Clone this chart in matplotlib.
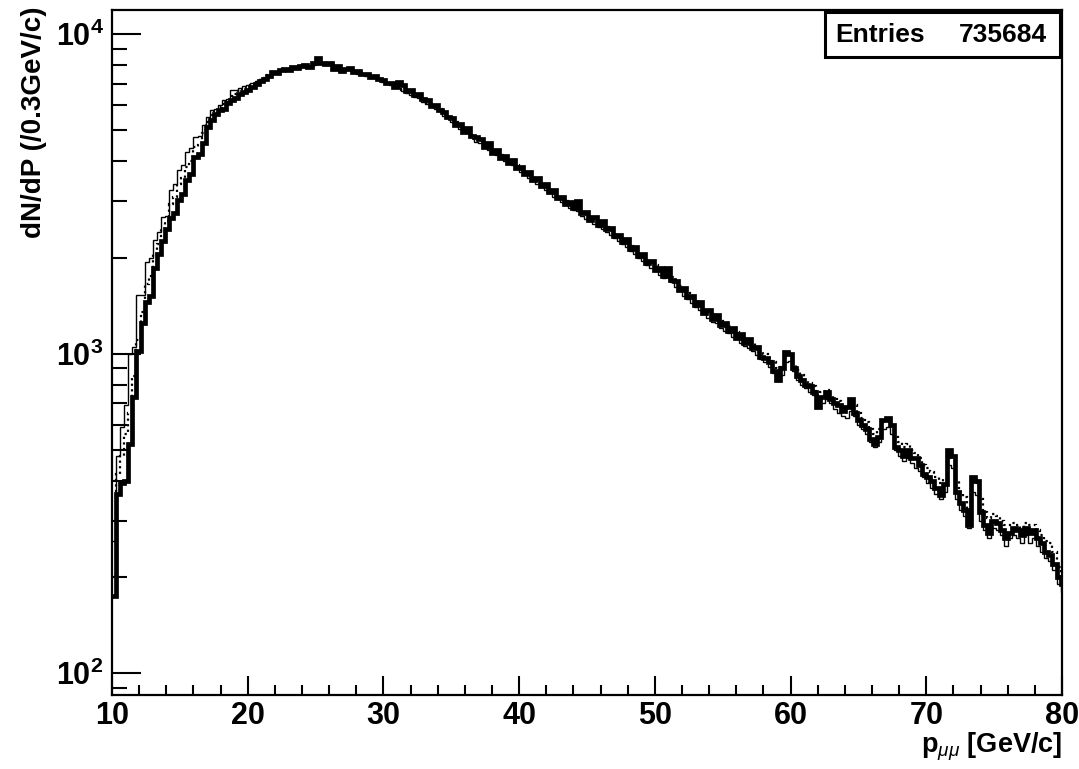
import numpy as np
import matplotlib
matplotlib.use("Agg")
import matplotlib.pyplot as plt
from matplotlib.patches import Rectangle
from matplotlib.ticker import FixedLocator, MultipleLocator, NullFormatter

# --- Data: 0.3 GeV/c bins from 10 GeV/c ---
BIN_START = 10.0
BIN_WIDTH = 0.3
ENTRIES = 735684

thick = [
    175, 365, 395, 400, 520, 730, 1020, 1250, 1450, 1520,
    1860, 2050, 2260, 2450, 2650, 2750, 3030, 3170, 3490, 3650,
    4140, 4230, 4550, 5120, 5390, 5630, 5770, 5850, 6100, 6200,
    6300, 6500, 6600, 6700, 6850, 7000, 7150, 7250, 7400, 7600,
    7550, 7700, 7800, 7750, 7900, 7850, 7950, 8000, 7900, 8100,
    8450, 8150, 8050, 8100, 7800, 7950, 7650, 7800, 7850, 7600,
    7650, 7500, 7500, 7350, 7400, 7250, 7200, 7050, 7050, 6850,
    7100, 6950, 6650, 6700, 6450, 6500, 6250, 6200, 5950, 6000,
    5800, 5700, 5500, 5450, 5200, 5250, 4950, 5100, 4800, 4750,
    4700, 4450, 4550, 4250, 4350, 4100, 4150, 3950, 4050, 3800,
    3850, 3650, 3700, 3500, 3550, 3350, 3400, 3200, 3250, 3080,
    3100, 2950, 2980, 2850, 3000, 2750, 2780, 2620, 2680, 2530,
    2600, 2450, 2480, 2330, 2350, 2230, 2280, 2120, 2160, 2020,
    2050, 1920, 1950, 1830, 1850, 1750, 1860, 1700, 1690, 1580,
    1600, 1500, 1520, 1420, 1450, 1340, 1370, 1280, 1320, 1230,
    1250, 1180, 1200, 1120, 1150, 1080, 1110, 1040, 1050, 980,
    970, 940, 880, 830, 900, 1010, 1000, 900, 850, 830,
    800, 790, 760, 680, 730, 760, 720, 700, 690, 660,
    680, 720, 650, 620, 600, 580, 540, 520, 550, 620,
    630, 600, 510, 500, 480, 500, 470, 470, 450, 420,
    410, 400, 380, 360, 390, 500, 480, 370, 340, 325,
    290, 410, 400, 320, 290, 275, 300, 295, 280, 265,
    275, 285, 280, 270, 285, 275, 280, 265, 255, 240,
    235, 220, 200, 190,
]

thin = [
    260, 480, 590, 690, 1000, 1050, 1525, 1525, 1930, 2000,
    2270, 2400, 2670, 2700, 3250, 3400, 3750, 3900, 4270, 4400,
    4750, 4800, 5200, 5500, 5800, 5850, 6000, 6200, 6250, 6670,
    6700, 6800, 6900, 6950, 7050, 7150, 7250, 7300, 7450, 7550,
    7600, 7650, 7750, 7800, 7850, 7800, 7900, 7950, 7900, 8000,
    8150, 8050, 8000, 8000, 7750, 7850, 7650, 7700, 7700, 7600,
    7500, 7500, 7400, 7300, 7300, 7200, 7100, 7000, 6950, 6850,
    6800, 6650, 6550, 6450, 6350, 6300, 6150, 6050, 5950, 5850,
    5750, 5550, 5450, 5300, 5200, 5050, 4950, 4900, 4750, 4600,
    4550, 4450, 4350, 4250, 4200, 4100, 4000, 3950, 3900, 3800,
    3700, 3650, 3550, 3480, 3400, 3330, 3250, 3180, 3100, 3050,
    2980, 2920, 2850, 2820, 2800, 2700, 2640, 2600, 2550, 2500,
    2460, 2400, 2350, 2300, 2250, 2200, 2150, 2100, 2050, 2000,
    1950, 1900, 1850, 1820, 1760, 1730, 1740, 1680, 1620, 1570,
    1520, 1480, 1440, 1400, 1370, 1330, 1290, 1260, 1250, 1200,
    1180, 1160, 1130, 1110, 1080, 1060, 1040, 1020, 990, 960,
    940, 910, 870, 820, 860, 940, 950, 880, 830, 800,
    780, 760, 740, 690, 700, 720, 700, 670, 650, 640,
    630, 660, 640, 600, 580, 560, 530, 510, 530, 580,
    590, 560, 500, 480, 460, 470, 455, 440, 430, 410,
    395, 380, 365, 350, 370, 450, 440, 350, 325, 310,
    285, 370, 360, 300, 280, 265, 285, 280, 270, 250,
    265, 270, 265, 255, 270, 255, 265, 250, 240, 230,
    225, 210, 190, 180,
]

dotted = [
    200, 420, 480, 560, 650, 850, 1100, 1350, 1650, 1750,
    2050, 2200, 2450, 2600, 2950, 3100, 3400, 3550, 3850, 4000,
    4450, 4500, 4900, 5300, 5600, 5750, 5900, 6050, 6150, 6400,
    6500, 6650, 6750, 6850, 6950, 7100, 7200, 7300, 7450, 7600,
    7600, 7700, 7800, 7800, 7900, 7850, 7950, 8000, 7950, 8100,
    8300, 8150, 8050, 8050, 7800, 7900, 7700, 7750, 7800, 7650,
    7600, 7550, 7450, 7400, 7350, 7300, 7150, 7100, 7000, 6900,
    6900, 6700, 6650, 6500, 6450, 6350, 6250, 6100, 6050, 5900,
    5850, 5650, 5550, 5400, 5300, 5150, 5050, 5000, 4850, 4700,
    4650, 4550, 4450, 4350, 4300, 4200, 4100, 4050, 3980, 3900,
    3800, 3720, 3650, 3550, 3480, 3420, 3330, 3260, 3180, 3130,
    3060, 3000, 2930, 2900, 2900, 2800, 2720, 2680, 2630, 2580,
    2550, 2490, 2430, 2390, 2330, 2280, 2220, 2170, 2130, 2070,
    2020, 1970, 1920, 1890, 1830, 1800, 1810, 1740, 1680, 1630,
    1580, 1550, 1500, 1470, 1440, 1390, 1360, 1330, 1310, 1270,
    1240, 1220, 1190, 1170, 1140, 1120, 1100, 1080, 1050, 1020,
    1000, 970, 940, 900, 910, 990, 990, 920, 890, 860,
    830, 810, 790, 740, 760, 770, 740, 720, 710, 690,
    680, 710, 690, 650, 630, 610, 580, 560, 580, 610,
    620, 600, 550, 530, 510, 520, 500, 490, 470, 450,
    440, 425, 410, 395, 405, 480, 470, 400, 370, 355,
    330, 400, 395, 350, 320, 305, 315, 310, 300, 290,
    290, 295, 290, 285, 295, 290, 290, 280, 270, 260,
    255, 240, 215, 200,
]

x_major = [10, 20, 30, 40, 50, 60, 70, 80]
y_major = [1e2, 1e3, 1e4]
y_major_labels = [r"$\mathbf{10^{2}}$", r"$\mathbf{10^{3}}$", r"$\mathbf{10^{4}}$"]

plt.rcParams["font.family"] = ["Liberation Sans", "DejaVu Sans"]
plt.rcParams["mathtext.fontset"] = "custom"
plt.rcParams["mathtext.bf"] = "Liberation Sans:bold"
plt.rcParams["mathtext.rm"] = "Liberation Sans"
plt.rcParams["mathtext.it"] = "Liberation Sans:italic"

W, H = 1079, 769
fig = plt.figure(figsize=(W / 100, H / 100), dpi=100)
fig.patch.set_facecolor("white")

# axes frame in pixels: left 112, right 1062, top 10, bottom 695
ax = fig.add_axes([112 / W, 1 - 695 / H, (1062 - 112) / W, (695 - 10) / H])

edges = BIN_START + BIN_WIDTH * np.arange(len(thick) + 1)
ax.stairs(thick, edges, baseline=None, color="black", linewidth=3.4)
ax.stairs(thin, edges, baseline=None, color="black", linewidth=1.0)
ax.stairs(dotted, edges, baseline=None, color="black", linewidth=1.6, linestyle=(0, (1, 1.5)))

ax.set_yscale("log")
ax.set_xlim(10, 80)
ax.set_ylim(85.5, 11900)

# ROOT-like axes: ticks inside, only on left and bottom
for side in ["left", "right", "top", "bottom"]:
    ax.spines[side].set_linewidth(1.6)
ax.xaxis.set_major_locator(FixedLocator(x_major))
ax.xaxis.set_minor_locator(MultipleLocator(2))
ax.yaxis.set_major_locator(FixedLocator(y_major))
minors = [m * 10 ** d for d in (1, 2, 3) for m in range(2, 10)]
ax.yaxis.set_minor_locator(FixedLocator(minors))
ax.yaxis.set_minor_formatter(NullFormatter())
ax.set_yticklabels(y_major_labels)
ax.set_xticklabels([str(v) for v in x_major])

ax.tick_params(axis="x", which="major", direction="in", length=14, width=1.5,
               labelsize=22, pad=4, top=False)
ax.tick_params(axis="x", which="minor", direction="in", length=7, width=1.5, top=False)
ax.tick_params(axis="y", which="major", direction="in", length=21, width=1.5,
               labelsize=22, pad=6, right=False)
ax.tick_params(axis="y", which="minor", direction="in", length=11, width=1.5, right=False)
for lab in ax.get_xticklabels():
    lab.set_fontweight("bold")

# axis titles
fig.text(34 / W, 1 - 6 / H, "dN/dP (/0.3GeV/c)", rotation=90, ha="center", va="top",
         fontsize=20, fontweight="bold")
fig.text(1062 / W, 1 - 731 / H, r"$\mathbf{p}_{\mu\mu}$ [GeV/c]", ha="right", va="top",
         fontsize=19.5, fontweight="bold")

# stats box
box = Rectangle((825 / W, 1 - 57 / H), (1060 - 825) / W, (57 - 12) / H,
                transform=fig.transFigure, facecolor="white", edgecolor="black",
                linewidth=2.2, zorder=5)
fig.add_artist(box)
fig.text(835 / W, 1 - 35 / H, "Entries", ha="left", va="center", fontsize=19,
         fontweight="bold", zorder=6)
fig.text(1047 / W, 1 - 35 / H, str(ENTRIES), ha="right", va="center", fontsize=19,
         fontweight="bold", zorder=6)

fig.savefig("out.png", dpi=100, facecolor="white")
